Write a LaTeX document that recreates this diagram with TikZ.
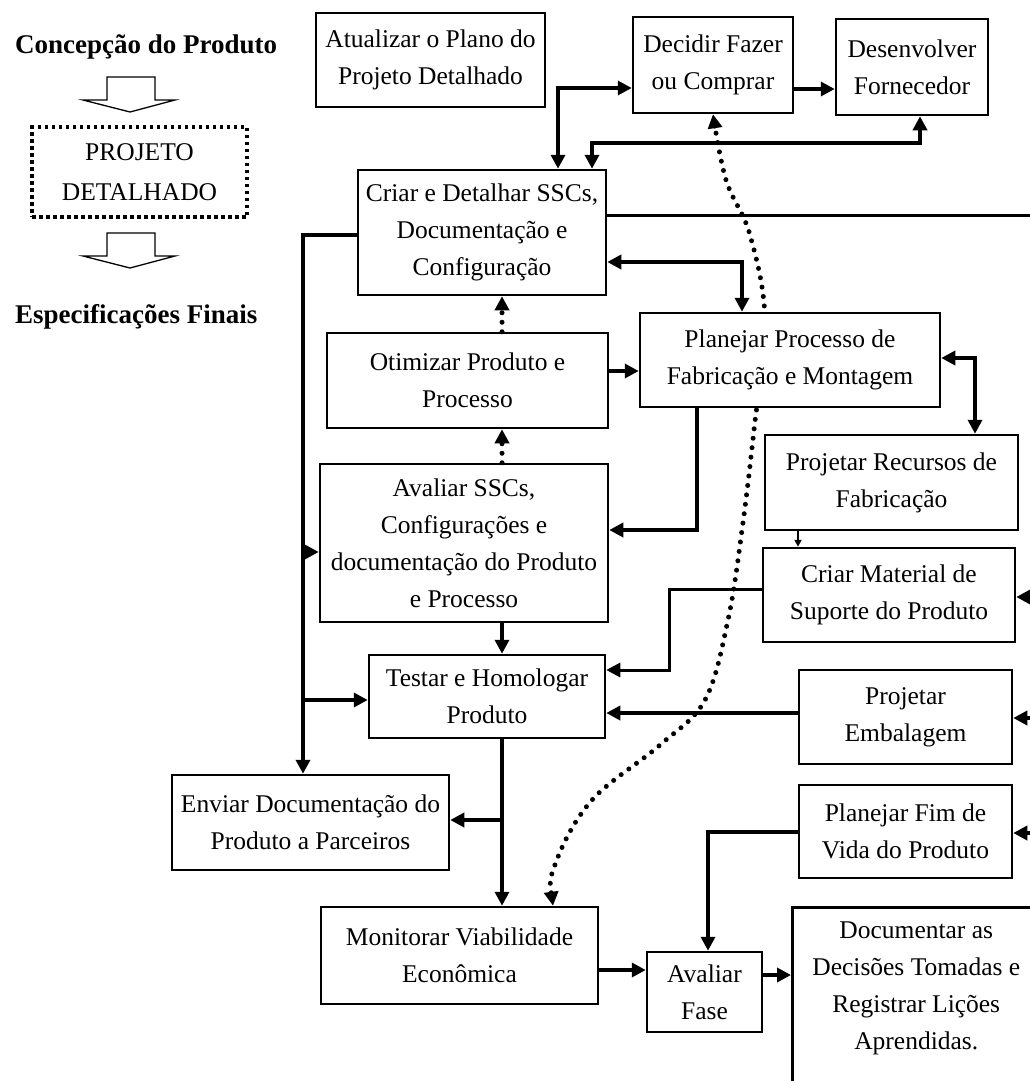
\documentclass[tikz,border=0pt]{standalone}
\usepackage{fontspec}
\setmainfont{Liberation Serif}
\usetikzlibrary{arrows.meta,backgrounds}
\pgfdeclarelayer{bottom}
\pgfsetlayers{bottom,background,main}
\tikzset{
 box/.style={draw, line width=2.5pt, fill=white, align=center, inner xsep=2pt, inner ysep=4pt, font=\fontsize{25.5}{37}\selectfont},
 arr/.style={line width=3.5pt, -{Triangle[length=14pt,width=14pt]}},
 darr/.style={line width=3.5pt, {Triangle[length=14pt,width=14pt]}-{Triangle[length=14pt,width=14pt]}},
 ln/.style={line width=3pt},
 dotl/.style={line width=5pt, line cap=round, dash pattern=on 0pt off 9.5pt},
 legtxt/.style={font=\fontsize{27}{32}\selectfont\bfseries, anchor=west, inner sep=0pt},
 hollow/.style={draw, line width=1.3pt, line join=miter},
}
\begin{document}
\begin{tikzpicture}[x=1pt,y=-1pt]
\begin{pgfonlayer}{bottom}
\fill[white] (0,0) rectangle (1030,1081);
\end{pgfonlayer}
\useasboundingbox (0,0) rectangle (1030,1081);
% legend
\node[legtxt] (conc) at (15,47) {Concepção do Produto};
\node[draw, line width=3.5pt, dash pattern=on 3.5pt off 3.5pt, minimum width=215pt, minimum height=90pt, align=center, inner sep=2pt, font=\fontsize{25.5}{40}\selectfont] (pd) at (139.5,172) {PROJETO\\DETALHADO};
\node[legtxt] (espf) at (15,317) {Especificações Finais};
\draw[hollow] (107,77) -- (107,100) -- (83,100) -- (130,112) -- (175,100) -- (155,100) -- (155,77) -- cycle;
\draw[hollow] (107,233) -- (107,256) -- (83,256) -- (130,268) -- (175,256) -- (155,256) -- (155,233) -- cycle;
% boxes
\node[box, minimum width=229pt, minimum height=94pt] (atu) at (430.5,60) {Atualizar o Plano do\\Projeto Detalhado};
\node[box, minimum width=160pt, minimum height=96pt] (dec) at (713,65) {Decidir Fazer\\ou Comprar};
\node[box, minimum width=152pt, minimum height=96pt] (des) at (912,67) {Desenvolver\\Fornecedor};
\node[box, minimum width=248pt, minimum height=125pt] (cri) at (482,232.5) {Criar e Detalhar SSCs,\\Documentação e\\Configuração};
\node[box, minimum width=281pt, minimum height=95pt] (oti) at (467.5,380.5) {Otimizar Produto e\\Processo};
\node[box, minimum width=288pt, minimum height=158pt] (ava) at (464,543) {Avaliar SSCs,\\Configurações e\\documentação do Produto\\e Processo};
\node[box, minimum width=300pt, minimum height=94pt] (pla) at (790,360) {Planejar Processo de\\Fabricação e Montagem};
\node[box, minimum width=253pt, minimum height=95pt] (rec) at (891.5,482.5) {Projetar Recursos de\\Fabricação};
\node[box, minimum width=252pt, minimum height=94pt] (mat) at (889,595) {Criar Material de\\Suporte do Produto};
\node[box, minimum width=236pt, minimum height=83pt] (tes) at (487,696.5) {Testar e Homologar\\Produto};
\node[box, minimum width=213pt, minimum height=94pt] (emb) at (905.5,717) {Projetar\\Embalagem};
\node[box, minimum width=277pt, minimum height=95pt] (env) at (310.5,822.5) {Enviar Documentação do\\Produto a Parceiros};
\node[box, minimum width=213pt, minimum height=93pt] (fim) at (905.5,831.5) {Planejar Fim de\\Vida do Produto};
\node[box, minimum width=277pt, minimum height=97pt] (mon) at (459.5,955.5) {Monitorar Viabilidade\\Econômica};
\node[box, minimum width=115pt, minimum height=80pt] (fas) at (704.5,992) {Avaliar\\Fase};
\node[box, anchor=north west, minimum width=248pt, inner ysep=15pt, text depth=180pt] (doc) at (791,906) {Documentar as\\Decisões Tomadas e\\Registrar Lições\\Aprendidas.};
% free ends at the right edge
\coordinate (r1) at (1030,215);
\coordinate (r2) at (1030,597);
\coordinate (r3) at (1030,718);
\coordinate (r4) at (1030,833);
% dotted curve behind boxes
\coordinate (dc1) at (mon.north -| 553,0);
\coordinate (dc2) at (dec.south -| 713,0);
\begin{pgfonlayer}{background}
\draw[dotl, {Triangle[length=14pt,width=14pt]}-{Triangle[length=14pt,width=14pt]}] plot[smooth, tension=0.6] coordinates {(dc1) (556,862) (592,800) (660,745) (705,700) (728,620) (742,530) (754,430) (765,320) (750,235) (726,180) (dc2)};
\end{pgfonlayer}
% connectors
\draw[darr] (cri.north -| 558,0) |- (dec.west |- 0,88);
\draw[darr] (cri.north -| 592,0) -- (592,143) -| (des.south -| 920,0);
\draw[arr] (dec.east |- 0,89) -- (des.west |- 0,89);
\draw[ln] (cri.east |- 0,215) -- (r1);
\draw[darr] (cri.east |- 0,262) -| (pla.north -| 742,0);
\draw[dotl, -{Triangle[length=14pt,width=14pt]}] (oti.north -| 502,0) -- (cri.south -| 502,0);
\draw[dotl, -{Triangle[length=14pt,width=14pt]}] (ava.north -| 502,0) -- (oti.south -| 502,0);
\draw[arr] (oti.east |- 0,371) -- (pla.west |- 0,371);
\draw[arr] (pla.south -| 697,0) |- (ava.east |- 0,530);
\draw[darr] (pla.east |- 0,358) -| (rec.north -| 975,0);
\draw[line width=2pt, -{Triangle[length=7pt,width=7pt]}] (rec.south -| 798,0) -- (mat.north -| 798,0);
\draw[arr] (r2) -- (mat.east |- 0,597);
\draw[ln, -{Triangle[length=14pt,width=14pt]}] (mat.west |- 0,589) -- (669,589) -- (669,670) -- (tes.east |- 0,670);
\draw[arr] (emb.west |- 0,713) -- (tes.east |- 0,713);
\draw[arr] (r3) -- (emb.east |- 0,718);
\draw[arr] (ava.south -| 502,0) -- (tes.north -| 502,0);
\draw[arr] (cri.west |- 0,235) -| (env.north -| 303,0);
\draw[arr] (303,552) -- (ava.west |- 0,552);
\draw[arr] (303,700) -- (tes.west |- 0,700);
\draw[arr] (tes.south -| 502,0) -- (mon.north -| 502,0);
\draw[arr] (502,820) -- (env.east |- 0,820);
\draw[arr] (r4) -- (fim.east |- 0,833);
\draw[arr] (fim.west |- 0,832) -| (fas.north -| 708,0);
\draw[arr] (mon.east |- 0,970) -- (fas.west |- 0,970);
\draw[arr] (fas.east |- 0,975) -- (doc.west |- 0,975);
\end{tikzpicture}
\end{document}
